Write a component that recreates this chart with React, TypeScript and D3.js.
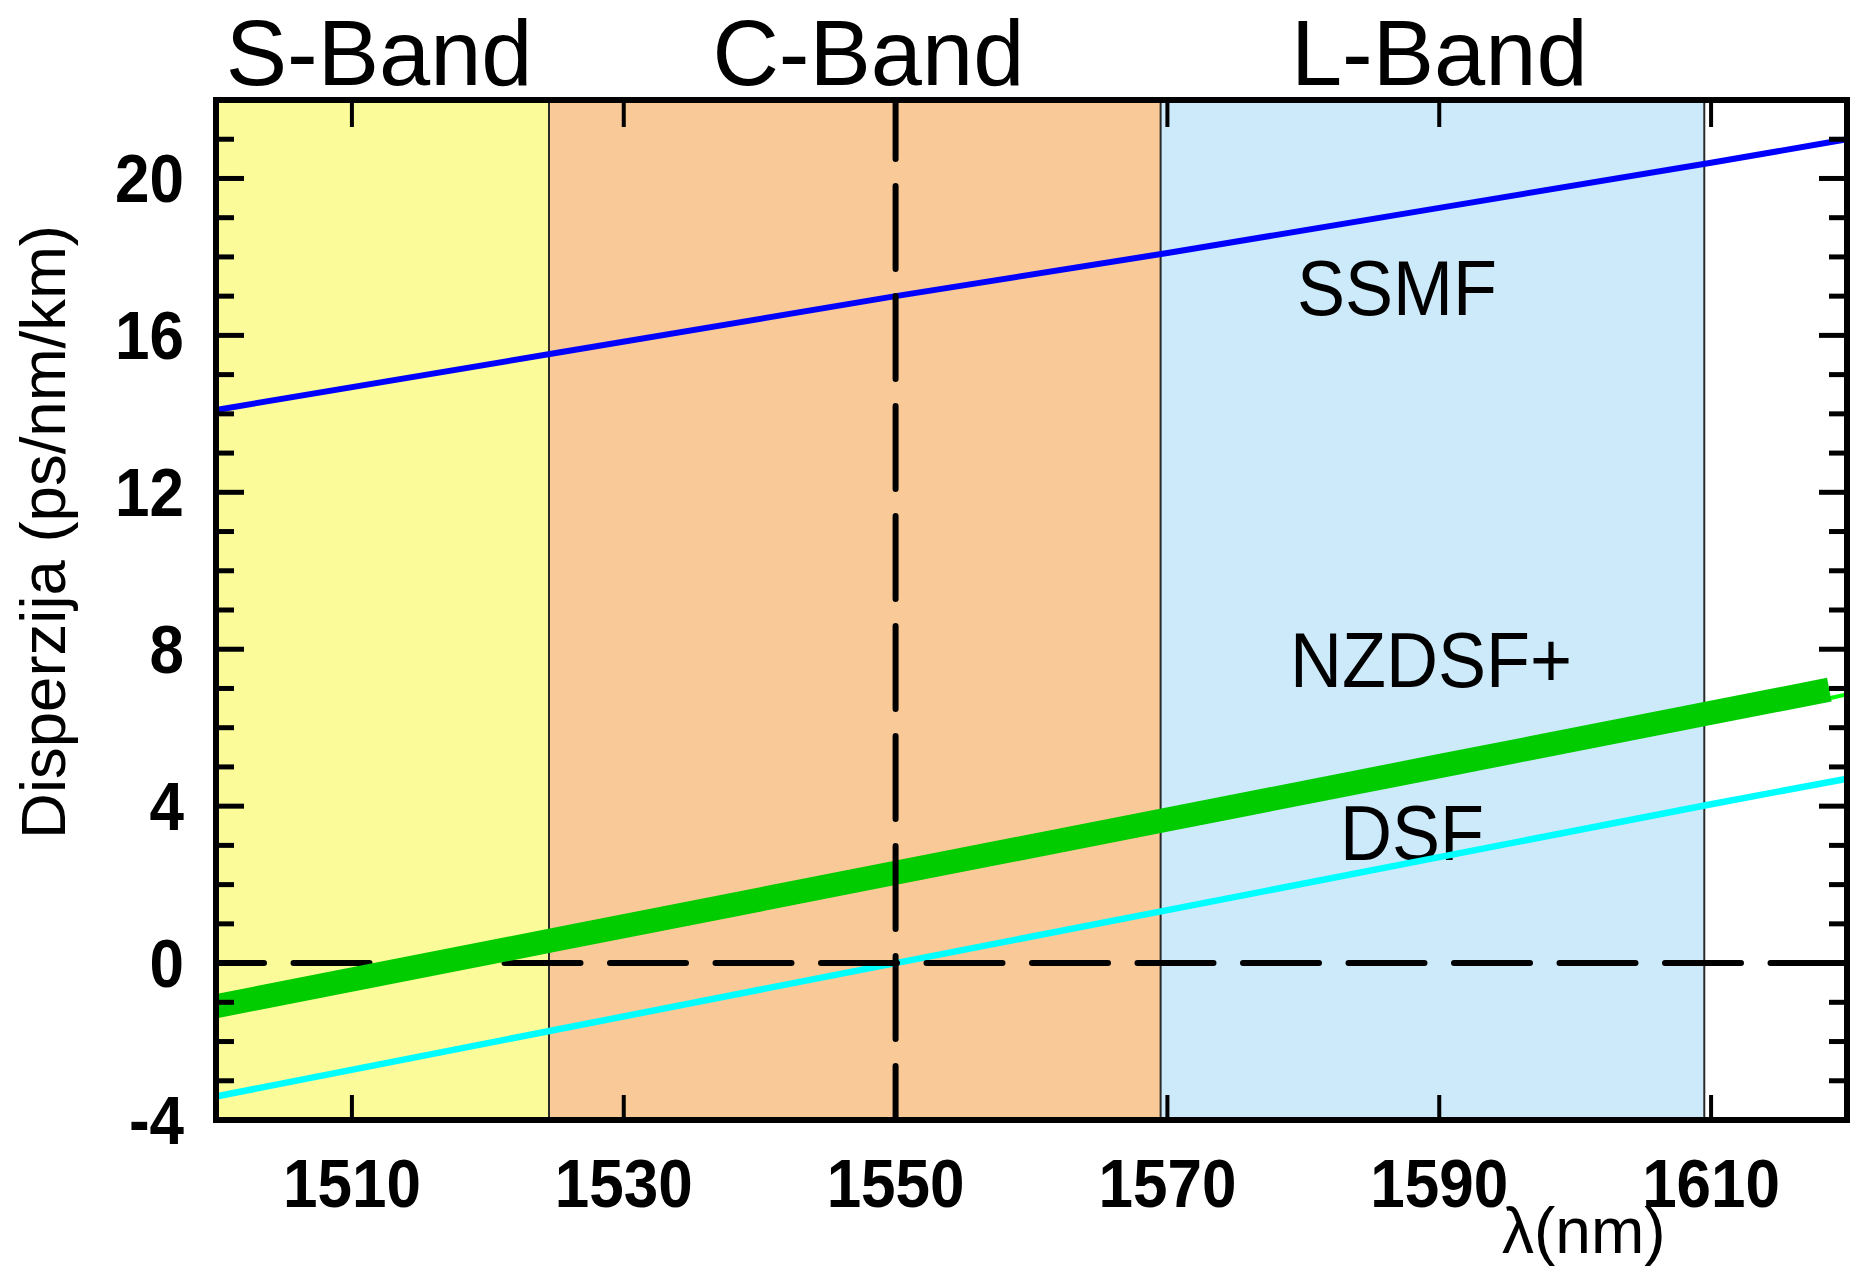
import React from "react";
import * as d3 from "d3";

// Wavelength samples (nm) and dispersion values (ps/nm/km)
const wavelengths = [1500, 1525, 1550, 1570, 1590, 1610, 1620];
const ssmf = [14.1, 15.55, 17.0, 18.1, 19.25, 20.4, 21.0];
const dsf = [-3.4, -1.7, 0.0, 1.35, 2.7, 4.05, 4.7];

const nzdsfWavelengths = [1500, 1525, 1550, 1570, 1590, 1610, 1618.7];
const nzdsf = [-1.1, 0.6, 2.3, 3.66, 5.02, 6.38, 6.97];
const nzdsfTailWavelengths = [1618.7, 1620];
const nzdsfTail = [6.75, 6.85];

// Telecom bands
const bandNames = ["S-Band", "C-Band", "L-Band"];
const bandStarts = [1500, 1524.5, 1569.5];
const bandEnds = [1524.5, 1569.5, 1609.5];
const bandLabelAt = [1512, 1548, 1590];

const xTicks = [1510, 1530, 1550, 1570, 1590, 1610];
const yTicks = [-4, 0, 4, 8, 12, 16, 20];
const zeroDispersionWavelength = 1550;

const seriesLabels = ["SSMF", "NZDSF+", "DSF"];

const W = 1852;
const H = 1266;
const M = { left: 216, right: 1847, top: 100, bottom: 1120 };
const FONT = "'Liberation Sans', Arial, Helvetica, sans-serif";
const bandColors = ["#fbfb99", "#fac998", "#cceafa"];

const x = d3.scaleLinear().domain([1500, 1620]).range([M.left, M.right]);
const y = d3.scaleLinear().domain([-4, 22]).range([M.bottom, M.top]);

const line = d3
  .line<[number, number]>()
  .x((d) => x(d[0]))
  .y((d) => y(d[1]));

const pairs = (xs: number[], ys: number[]) =>
  xs.map((v, i) => [v, ys[i]] as [number, number]);

function Txt(props: {
  x: number;
  y: number;
  size: number;
  weight?: string;
  anchor?: string;
  sy?: number;
  sx?: number;
  rotate?: number;
  children: React.ReactNode;
}) {
  const { sx = 1, sy = 1, rotate = 0 } = props;
  return (
    <text
      transform={`translate(${props.x},${props.y}) rotate(${rotate}) scale(${sx},${sy})`}
      fontSize={props.size}
      fontWeight={props.weight || "normal"}
      textAnchor={props.anchor || "start"}
      fontFamily={FONT}
      fill="#000"
    >
      {props.children}
    </text>
  );
}

export default function App() {
  const minorY = d3.range(-3, 22, 1);
  return (
    <svg
      width={W}
      height={H}
      viewBox={`0 0 ${W} ${H}`}
      style={{ position: "absolute", left: 0, top: 0, background: "#fff" }}
    >
      <rect x={0} y={0} width={W} height={H} fill="#fff" />

      {/* band backgrounds */}
      {bandNames.map((n, i) => (
        <rect
          key={n}
          x={x(bandStarts[i])}
          y={M.top}
          width={x(bandEnds[i]) - x(bandStarts[i])}
          height={M.bottom - M.top}
          fill={bandColors[i]}
        />
      ))}
      {bandEnds.map((b) => (
        <line
          key={b}
          x1={x(b)}
          x2={x(b)}
          y1={M.top}
          y2={M.bottom}
          stroke="#2a2a2a"
          strokeWidth={2}
        />
      ))}

      {/* band titles */}
      {bandNames.map((n, i) => (
        <Txt key={n} x={x(bandLabelAt[i])} y={85} size={92} anchor="middle">
          {n}
        </Txt>
      ))}

      {/* series labels */}
      <Txt x={1297} y={315} size={72} sy={1.07}>{seriesLabels[0]}</Txt>
      <Txt x={1290} y={687} size={72} sy={1.07}>{seriesLabels[1]}</Txt>
      <Txt x={1340} y={860} size={72} sy={1.07}>{seriesLabels[2]}</Txt>

      {/* dispersion curves */}
      <path d={line(pairs(wavelengths, dsf)) || ""} fill="none" stroke="#00ffff" strokeWidth={6.5} />

      {/* zero dispersion reference */}
      <line
        x1={M.left}
        x2={M.right}
        y1={y(0)}
        y2={y(0)}
        stroke="#000"
        strokeWidth={6}
        strokeDasharray="76 29.5"
        strokeDashoffset={28}
        strokeLinecap="round"
      />

      <path
        d={line(pairs(nzdsfTailWavelengths, nzdsfTail)) || ""}
        fill="none"
        stroke="#00ff00"
        strokeWidth={4}
      />
      <path d={line(pairs(nzdsfWavelengths, nzdsf)) || ""} fill="none" stroke="#00cc00" strokeWidth={24} />
      <path d={line(pairs(wavelengths, ssmf)) || ""} fill="none" stroke="#0000ff" strokeWidth={6} />

      <line
        x1={x(zeroDispersionWavelength)}
        x2={x(zeroDispersionWavelength)}
        y1={M.top}
        y2={M.bottom}
        stroke="#000"
        strokeWidth={6}
        strokeDasharray="83 27"
        strokeDashoffset={24}
        strokeLinecap="round"
      />

      {/* y ticks, left and right, inward */}
      {minorY.map((v) => {
        const len = v % 4 === 0 ? 28 : 18;
        return (
          <g key={v}>
            <line x1={M.left} x2={M.left + len} y1={y(v)} y2={y(v)} stroke="#000" strokeWidth={5} />
            <line x1={M.right} x2={M.right - len} y1={y(v)} y2={y(v)} stroke="#000" strokeWidth={5} />
          </g>
        );
      })}
      {/* x ticks, top and bottom, inward */}
      {xTicks.map((v) => (
        <g key={v}>
          <line x1={x(v)} x2={x(v)} y1={M.bottom} y2={M.bottom - 25} stroke="#000" strokeWidth={4} />
          <line x1={x(v)} x2={x(v)} y1={M.top} y2={M.top + 27} stroke="#000" strokeWidth={4} />
        </g>
      ))}

      {/* frame */}
      <rect
        x={M.left}
        y={M.top}
        width={M.right - M.left}
        height={M.bottom - M.top}
        fill="none"
        stroke="#000"
        strokeWidth={6}
      />

      {/* tick labels */}
      {yTicks.map((v) => (
        <Txt key={v} x={184} y={y(v) + 24} size={62} weight="bold" anchor="end" sy={1.1}>
          {v}
        </Txt>
      ))}
      {xTicks.map((v) => (
        <Txt key={v} x={x(v)} y={1207} size={62} weight="bold" anchor="middle" sy={1.1}>
          {v}
        </Txt>
      ))}

      {/* axis titles */}
      <Txt x={65} y={532} size={63.5} anchor="middle" rotate={-90}>
        Disperzija (ps/nm/km)
      </Txt>
      <Txt x={1502} y={1253} size={64}>
        λ(nm)
      </Txt>
    </svg>
  );
}
